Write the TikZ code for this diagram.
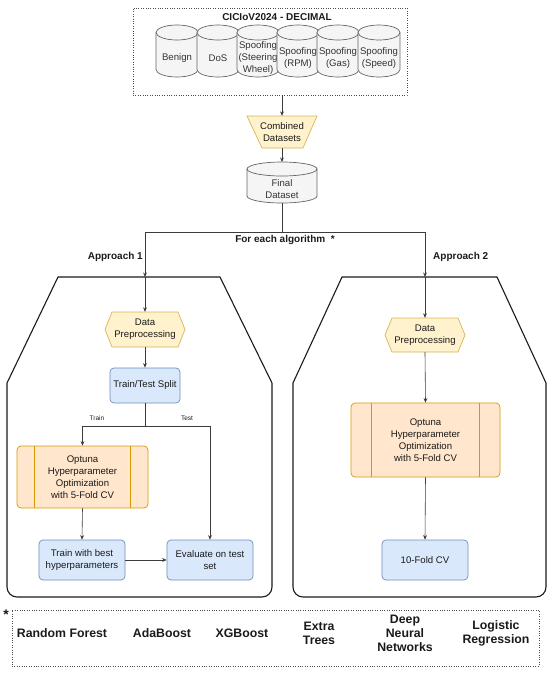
\documentclass[tikz,border=0pt]{standalone}
\usepackage{fontspec}
\setmainfont{Liberation Sans}
\usetikzlibrary{arrows.meta,calc}

\definecolor{yfill}{HTML}{FFF2CC}
\definecolor{ydraw}{HTML}{D6B656}
\definecolor{bfill}{HTML}{DAE8FC}
\definecolor{bdraw}{HTML}{6C8EBF}
\definecolor{ofill}{HTML}{FFE6CC}
\definecolor{odraw}{HTML}{D79B00}
\definecolor{gfill}{HTML}{F5F5F5}
\definecolor{gdraw}{HTML}{666666}
\definecolor{gtext}{HTML}{333333}
\definecolor{ink}{HTML}{1A1A1A}

\tikzset{
  boxtext/.style={align=center, inner sep=0pt, font=\fontsize{9.6}{12}\selectfont, text=ink},
  cylstyle/.style={fill=gfill, draw=gdraw, line width=0.7pt},
  cyltext/.style={align=center, inner sep=0pt, font=\fontsize{9.6}{12}\selectfont, text=gtext},
  ystyle/.style={fill=yfill, draw=ydraw, line width=0.7pt},
  bluebox/.style={rectangle, rounded corners=4pt, fill=bfill, draw=bdraw, line width=0.7pt, boxtext},
  procbox/.style={rectangle, rounded corners=4pt, fill=ofill, draw=odraw, line width=0.7pt, boxtext},
  arr/.style={draw=ink!85, line width=0.6pt, -{Stealth[length=4.5pt,width=3.8pt]}},
  conn/.style={draw=ink!85, line width=0.6pt},
  contour/.style={draw=ink, line width=1.1pt},
  dotbox/.style={draw=black!70, line width=0.8pt, dash pattern=on 0.8pt off 1.6pt},
  lbl/.style={inner sep=0pt, font=\fontsize{10}{12}\selectfont\bfseries, text=ink},
  small/.style={inner sep=0pt, font=\fontsize{6.5}{8}\selectfont, text=ink},
  algo/.style={align=center, inner sep=0pt, font=\fontsize{12.3}{14}\selectfont\bfseries, text=ink},
}

% name, cx, top, bottom, rx, ry, text
\newcommand\dbcyl[7]{%
  \filldraw[cylstyle] ({#2-#5},{-(#3)-#6}) -- ({#2-#5},{-(#4)+#6})
     arc[start angle=180,end angle=360,x radius=#5,y radius=#6]
     -- ({#2+#5},{-(#3)-#6})
     arc[start angle=0,end angle=180,x radius=#5,y radius=#6] -- cycle;
  \draw[cylstyle,fill=none] ({#2-#5},{-(#3)-#6})
     arc[start angle=180,end angle=360,x radius=#5,y radius=#6];
  \coordinate (#1-t) at (#2,{-(#3)});
  \coordinate (#1-b) at (#2,{-(#4)});
  \node[cyltext] (#1) at (#2,{-((#3)+2*(#6)+(#4))/2}) {#7};
}

% name, cx, cy, w, h, text
\newcommand\hexa[6]{%
  \filldraw[ystyle] ({#2-#4/2},{-(#3)}) -- ({#2-#4/2+7},{-(#3)+#5/2})
     -- ({#2+#4/2-7},{-(#3)+#5/2}) -- ({#2+#4/2},{-(#3)})
     -- ({#2+#4/2-7},{-(#3)-#5/2}) -- ({#2-#4/2+7},{-(#3)-#5/2}) -- cycle;
  \node[boxtext, minimum width=#4, minimum height=#5] (#1) at (#2,{-(#3)}) {#6};
}

\begin{document}
\begin{tikzpicture}[x=1pt,y=1pt]
\useasboundingbox (0,0) rectangle (550,-673);

% ---- top dataset box
\node[dotbox, rectangle, minimum width=274, minimum height=87, inner sep=0pt] (topbox) at (270,-51.5) {};
\node[lbl] (title) at (277,-17) {CICIoV2024 - DECIMAL};
\dbcyl{cb}{177}{25}{77}{21}{7.5}{Benign}
\dbcyl{cd}{218}{25}{77}{21}{7.5}{DoS}
\dbcyl{cs}{258}{25}{77}{21}{7.5}{Spoofing\\(Steering\\Wheel)}
\dbcyl{cr}{298}{25}{77}{21}{7.5}{Spoofing\\(RPM)}
\dbcyl{cg}{338}{25}{77}{21}{7.5}{Spoofing\\(Gas)}
\dbcyl{cp}{379}{25}{77}{21}{7.5}{Spoofing\\(Speed)}

% ---- combined datasets
\filldraw[ystyle] (247,-116) -- (317,-116) -- (303,-148) -- (262,-148) -- cycle;
\node[boxtext, minimum width=70, minimum height=32] (comb) at (282,-132) {Combined\\Datasets};

% ---- final dataset
\dbcyl{final}{282}{162}{203}{35}{7}{Final\\Dataset}

% ---- containers
\draw[contour] (7,-383) -- (58,-277) -- (220,-277) -- (272,-383) -- (272,-587)
   arc[start angle=0,end angle=-90,radius=10] -- (17,-597)
   arc[start angle=270,end angle=180,radius=10] -- cycle;
\draw[contour] (293,-383) -- (342,-277) -- (497,-277) -- (546,-383) -- (546,-587)
   arc[start angle=0,end angle=-90,radius=10] -- (303,-597)
   arc[start angle=270,end angle=180,radius=10] -- cycle;

\coordinate (split) at (282,-232);
\coordinate (c1top) at (145,-277);
\coordinate (c2top) at (425,-277);
\coordinate (tsplit) at (145,-426);

\node[lbl] (foreach) at (285,-240) {For each algorithm\ \ *};
\node[lbl, anchor=east] (ap1) at (143,-257) {Approach 1};
\node[lbl, anchor=west] (ap2) at (433,-257) {Approach 2};

% ---- approach 1
\hexa{dp1}{145}{329.5}{80}{35}{Data\\Preprocessing}
\node[bluebox, minimum width=70, minimum height=35] (tts) at (145,-385.5) {Train/Test Split};
\node[procbox, minimum width=131, minimum height=62] (opt1) at (82.5,-477) {Optuna\\Hyperparameter\\Optimization\\with 5-Fold CV};
\draw[draw=odraw, line width=0.7pt] ($(opt1.north west)+(18,0)$) -- ($(opt1.south west)+(18,0)$);
\draw[draw=odraw, line width=0.7pt] ($(opt1.north east)+(-18,0)$) -- ($(opt1.south east)+(-18,0)$);
\node[bluebox, minimum width=86, minimum height=40] (trainb) at (82,-560) {Train with best\\hyperparameters};
\node[bluebox, minimum width=86, minimum height=40] (evalb) at (210,-560) {Evaluate on test\\set};
\node[small] (trainlbl) at (97,-418) {Train};
\node[small] (testlbl) at (187,-418) {Test};

% ---- approach 2
\hexa{dp2}{425}{335}{80}{34}{Data\\Preprocessing}
\node[procbox, minimum width=149, minimum height=74] (opt2) at (425.5,-440) {Optuna\\Hyperparameter\\Optimization\\with 5-Fold CV};
\draw[draw=odraw, line width=0.7pt] ($(opt2.north west)+(21,0)$) -- ($(opt2.south west)+(21,0)$);
\draw[draw=odraw, line width=0.7pt] ($(opt2.north east)+(-21,0)$) -- ($(opt2.south east)+(-21,0)$);
\node[bluebox, minimum width=86, minimum height=40] (cv) at (425,-560) {10-Fold CV};

% ---- connectors
\draw[arr] (topbox.south -| comb.north) -- (comb.north);
\draw[arr] (comb.south) -- (final-t);
\draw[conn] (final-b) -- (split);
\draw[arr] (split) -| (c1top);
\draw[arr] (split) -| (c2top);
\draw[arr] (c1top) -- (dp1.north);
\draw[arr] (dp1.south) -- (tts.north);
\draw[conn] (tts.south) -- (tsplit);
\draw[arr] (tsplit) -| (opt1.north);
\draw[arr] (tsplit) -| (evalb.north);
\draw[arr] (opt1.south) -- (trainb.north);
\draw[arr] (trainb.east) -- (evalb.west);
\draw[arr] (c2top) -- (dp2.north);
\draw[arr] (dp2.south) -- (opt2.north);
\draw[arr] (opt2.south) -- (cv.north);

% ---- algorithms legend
\node[dotbox, rectangle, minimum width=527, minimum height=56, inner sep=0pt] (legend) at (275.5,-638) {};
\node[inner sep=0pt, font=\fontsize{14}{14}\selectfont\bfseries, text=ink] (star) at (6,-615) {*};
\node[algo] (rf) at (62,-633) {Random Forest};
\node[algo] (ada) at (162,-633) {AdaBoost};
\node[algo] (xgb) at (242,-633) {XGBoost};
\node[algo] (et) at (319,-633) {Extra\\Trees};
\node[algo] (dnn) at (405,-633) {Deep\\Neural\\Networks};
\node[algo] (lr) at (496,-633) {Logistic\\Regression};
\end{tikzpicture}
\end{document}
